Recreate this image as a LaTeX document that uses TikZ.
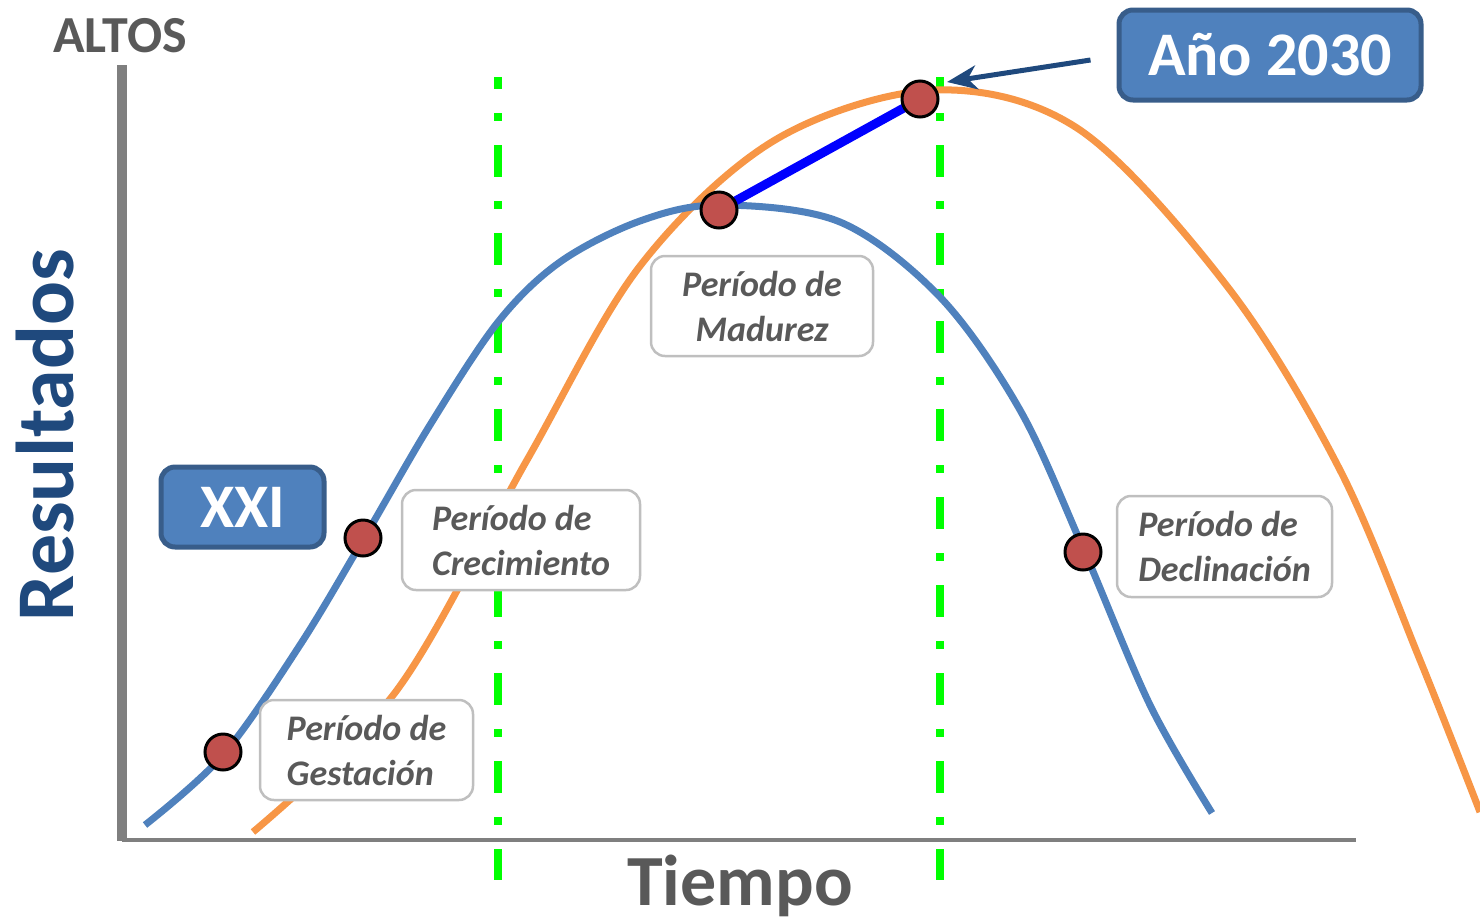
\documentclass[tikz,border=0pt]{standalone}
\usepackage{fontspec}
\setmainfont{Carlito}
\usetikzlibrary{arrows.meta}
\definecolor{curveblue}{HTML}{4F81BD}
\definecolor{curveorange}{HTML}{F79646}
\definecolor{dotred}{HTML}{C0504D}
\definecolor{tagline}{HTML}{385D8A}
\definecolor{labelgray}{HTML}{595959}
\definecolor{framegray}{HTML}{BFBFBF}
\definecolor{axisgray}{HTML}{7F7F7F}
\definecolor{navy}{HTML}{1F497D}
\definecolor{phasegreen}{HTML}{00FF00}

\begin{document}
\begin{tikzpicture}[x=1pt, y=-1pt,
  every node/.style = {inner sep=0pt, font=\bfseries},
  period/.style = {draw=framegray, line width=2.5pt, rounded corners=14pt,
    fill=white, align=left, text=labelgray,
    font=\bfseries\itshape\fontsize{36}{45}\selectfont},
  tag/.style = {draw=tagline, line width=5pt, rounded corners=14pt,
    fill=curveblue, text=white, font=\bfseries\fontsize{62}{62}\selectfont},
  milestone/.style = {circle, draw=black, line width=3pt, fill=dotred,
    minimum size=36pt},
  phaseline/.style = {draw=phasegreen, line width=8pt,
    dash pattern=on 32pt off 24pt on 8pt off 24pt, dash phase=20pt},
  curve/.style = {line width=7pt}]
  \useasboundingbox (0,0) rectangle (1480,922);

  \draw[axisgray, line width=10pt] (122,65) -- (122,841);
  \draw[axisgray, line width=4pt] (122,839.5) -- (1356,839.5);

  \draw[phaseline] (498,77) -- (498,880);
  \draw[phaseline] (940,77) -- (940,880);

  \draw[curve, curveorange] plot[smooth, tension=0.55] coordinates {
    (253,832) (397,690) (527,460) (640,266) (775,140) (935,90) (1080,130)
    (1230,290) (1340,470) (1420,660) (1480,812)};
  \draw[curve, curveblue] plot[smooth, tension=0.55] coordinates {
    (145,825) (223,755) (300,645) (363,540) (430,425) (498,322) (560,262)
    (640,221) (720,205) (840,222) (940,297) (1020,410) (1083,548)
    (1150,705) (1212,813)};

  \coordinate (mature) at (719,210);
  \coordinate (top) at (920,99);
  \draw[blue, line width=9pt] (mature) -- (top);

  \node[period, minimum width=213pt, minimum height=100pt] (gestation)
    at (366.5,750) {Período de\\Gestación};
  \node[period, minimum width=238pt, minimum height=100pt] (growth)
    at (521,540) {Período de\\Crecimiento};
  \node[period, align=center, minimum width=222pt, minimum height=100pt] (maturity)
    at (762,306) {Período de\\Madurez};
  \node[period, minimum width=215pt, minimum height=101pt] (decline)
    at (1224.5,546.5) {Período de\\Declinación};

  \node[tag, minimum width=163pt, minimum height=80pt] (century)
    at (242.5,507) {XXI};
  \node[tag, minimum width=302pt, minimum height=90pt] (year)
    at (1270,55) {Año 2030};

  \node[milestone] (gestation dot) at (223,752) {};
  \node[milestone] (growth dot) at (363,538) {};
  \node[milestone] (mature dot) at (mature) {};
  \node[milestone] (top dot) at (top) {};
  \node[milestone] (decline dot) at (1083,552) {};

  \coordinate (tip) at (947,82);
  \draw[navy, line width=5pt, -{Stealth[length=30pt, width=24pt, inset=9pt]}]
    ([xshift=-26pt, yshift=-5pt]year.west) -- (tip);

  \node[text=labelgray, font=\bfseries\fontsize{52}{52}\selectfont,
    anchor=base west] (high) at (53,52) {ALTOS};
  \node[text=labelgray, font=\bfseries\fontsize{72}{72}\selectfont,
    anchor=base] (time) at (740,905) {Tiempo};
  \node[text=navy, font=\bfseries\fontsize{82}{82}\selectfont,
    rotate=90, anchor=base] (results) at (73,435) {Resultados};
\end{tikzpicture}
\end{document}
